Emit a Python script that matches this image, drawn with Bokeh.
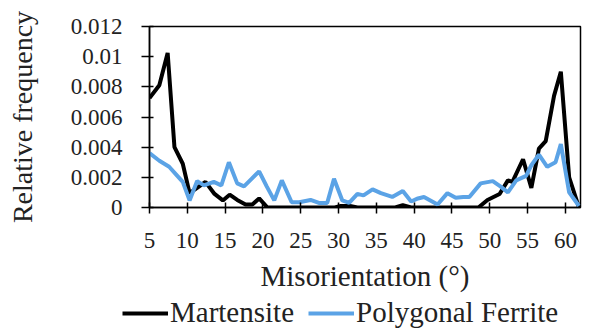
from bokeh.plotting import figure
from bokeh.models import FixedTicker, Legend, LegendItem, Range1d
from bokeh.layouts import column
from bokeh.embed import file_html
from bokeh.resources import INLINE

# Data
mart_x = [5.0, 6.3, 7.4, 8.3, 9.4, 10.3, 11.3, 12.4, 13.6, 14.7, 15.6, 16.6, 17.7, 18.6, 19.5,
          20.6, 22.0, 24.0, 26.0, 28.0, 29.5, 30.3, 31.5, 32.5, 35.0, 37.5, 38.5, 39.6, 42.0,
          45.0, 48.5, 49.7, 51.3, 52.4, 53.0, 54.4, 55.5, 56.5, 57.4, 58.5, 59.4, 60.5, 61.8]
mart_y = [0.00725, 0.0081, 0.01025, 0.0040, 0.0029, 0.00095, 0.0013, 0.0017, 0.0009, 0.00047,
          0.00085, 0.0005, 0.0002, 0.0002, 0.0006, 0.0, 0.0, 0.0, 0.0, 0.0, 0.0, 0.0001, 0.0001,
          0.0, 0.0, 0.0, 0.00015, 0.0, 0.0, 0.0, 0.0, 0.0005, 0.0009, 0.0018, 0.0017, 0.0032,
          0.0013, 0.0039, 0.0044, 0.0074, 0.0090, 0.0020, 0.0]

ferr_x = [5.0, 6.3, 7.6, 8.5, 9.4, 10.3, 11.3, 12.2, 13.5, 14.5, 15.5, 16.6, 17.5, 18.5, 19.5,
          20.5, 21.5, 22.5, 23.8, 24.8, 26.3, 27.4, 28.5, 29.4, 30.5, 31.4, 32.5, 33.3, 34.5,
          35.6, 37.1, 38.5, 39.6, 40.5, 41.3, 43.1, 44.4, 45.5, 46.5, 47.3, 48.8, 50.4, 51.4,
          52.4, 53.5, 54.8, 55.5, 56.5, 57.6, 58.7, 59.4, 60.5, 61.8]
ferr_y = [0.0036, 0.0031, 0.0027, 0.0022, 0.0017, 0.00047, 0.00175, 0.00147, 0.0017, 0.00147,
          0.0030, 0.0016, 0.0014, 0.0019, 0.0024, 0.0014, 0.00047, 0.0018, 0.00035, 0.00035,
          0.0005, 0.0003, 0.0003, 0.0019, 0.00047, 0.0003, 0.0009, 0.0008, 0.0012, 0.00095,
          0.0007, 0.0011, 0.0004, 0.0006, 0.0007, 0.0002, 0.00095, 0.00065, 0.0007, 0.0007,
          0.0016, 0.00175, 0.0014, 0.0010, 0.0018, 0.0021, 0.0028, 0.0035, 0.0027, 0.0030,
          0.0042, 0.0010, 0.0001]

x_ticks = [5, 10, 15, 20, 25, 30, 35, 40, 45, 50, 55, 60]
y_ticks = [0, 0.002, 0.004, 0.006, 0.008, 0.01, 0.012]
y_tick_labels = ["0", "0.002", "0.004", "0.006", "0.008", "0.01", "0.012"]
series_names = ["Martensite", "Polygonal Ferrite"]
series_colors = ["black", "#5BA3E6"]
x_title = "Misorientation (°)"
y_title = "Relative frequency"

FONT = "Liberation Serif"
TXT = "#222222"

p = figure(frame_width=431, frame_height=181, output_backend="svg", toolbar_location=None,
           x_range=Range1d(5, 62), y_range=Range1d(0, 0.012),
           min_border_left=149, min_border_right=20, min_border_top=26, min_border_bottom=0)
p.grid.visible = False
p.outline_line_color = "black"
p.outline_line_width = 1.5

p.line(mart_x, mart_y, line_color=series_colors[0], line_width=4)
p.line(ferr_x, ferr_y, line_color=series_colors[1], line_width=4)

xa = p.xaxis[0]
xa.ticker = FixedTicker(ticks=x_ticks)
xa.minor_tick_line_color = None
xa.major_tick_in = 5
xa.major_tick_out = 6
xa.major_label_standoff = 19
xa.major_label_text_font = FONT
xa.major_label_text_font_size = "23px"
xa.major_label_text_color = TXT
xa.axis_label = x_title
xa.axis_label_text_font = FONT
xa.axis_label_text_font_size = "29px"
xa.axis_label_text_font_style = "normal"
xa.axis_label_text_color = TXT
xa.axis_label_standoff = 9
xa.axis_line_width = 1.5
xa.major_tick_line_width = 1.5

ya = p.yaxis[0]
ya.ticker = FixedTicker(ticks=y_ticks)
ya.major_label_overrides = {t: s for t, s in zip(y_ticks, y_tick_labels)}
ya.minor_tick_line_color = None
ya.major_tick_in = 4
ya.major_tick_out = 8
ya.major_label_standoff = 19
ya.major_label_text_font = FONT
ya.major_label_text_font_size = "23px"
ya.major_label_text_color = TXT
ya.axis_label = y_title
ya.axis_label_text_font = FONT
ya.axis_label_text_font_size = "28px"
ya.axis_label_text_font_style = "normal"
ya.axis_label_text_color = TXT
ya.axis_label_standoff = 30
ya.axis_line_width = 1.5
ya.major_tick_line_width = 1.5

# Legend strip below the chart (its lines use the same series, kept out of view)
p2 = figure(frame_width=600, frame_height=36, output_backend="svg", toolbar_location=None,
            x_range=Range1d(1000, 1001), y_range=Range1d(0, 1),
            x_axis_location=None, y_axis_location=None,
            min_border=0, min_border_left=0, min_border_right=0,
            min_border_top=0, min_border_bottom=0)
p2.grid.visible = False
p2.outline_line_color = None

l1 = p2.line(mart_x, mart_y, line_color=series_colors[0], line_width=4)
l2 = p2.line(ferr_x, ferr_y, line_color=series_colors[1], line_width=4)

legend = Legend(items=[LegendItem(label=series_names[0], renderers=[l1]),
                       LegendItem(label=series_names[1], renderers=[l2])],
                orientation="horizontal", location=(122, 1),
                label_text_font=FONT, label_text_font_size="29px", label_text_color=TXT,
                glyph_width=46, glyph_height=20, label_height=30,
                label_standoff=2, spacing=14,
                border_line_alpha=0, background_fill_alpha=0,
                margin=0, padding=0)
p2.add_layout(legend, "center")

layout = column(p, p2, spacing=0)
open("out.html", "w").write(file_html(layout, INLINE))
